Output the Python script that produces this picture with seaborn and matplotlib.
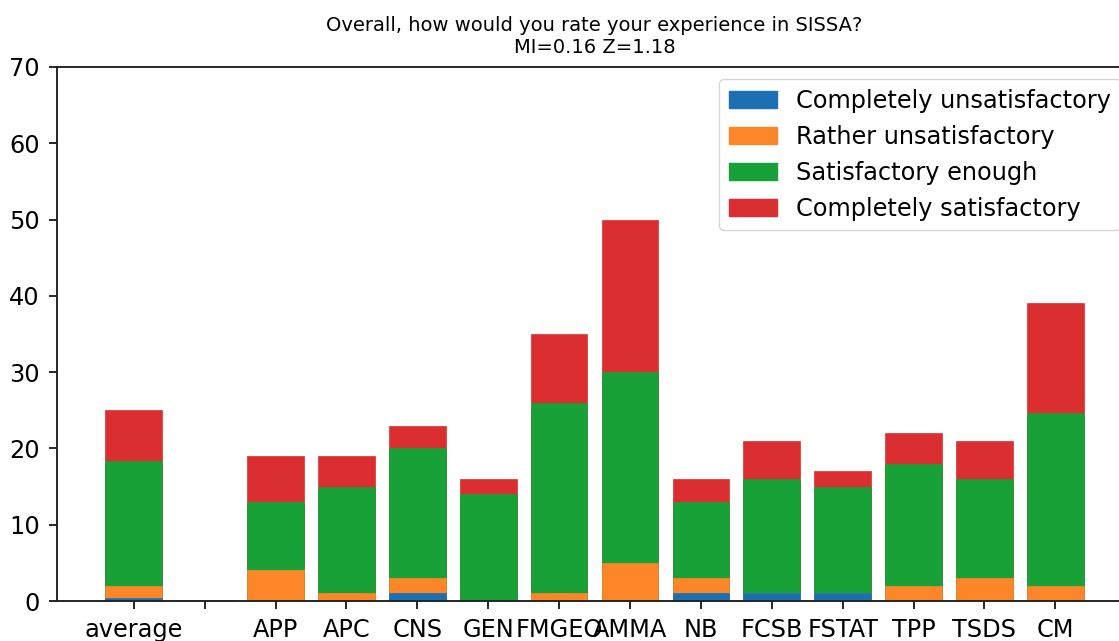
import numpy as np
import pandas as pd
import matplotlib
matplotlib.use("Agg")
import matplotlib.pyplot as plt
import seaborn as sns
from matplotlib.patches import Patch

# survey answers per group
groups = ["average", "", "APP", "APC", "CNS", "GEN", "FMGEO", "AMMA",
          "NB", "FCSB", "FSTAT", "TPP", "TSDS", "CM"]
answers = ["Completely unsatisfactory", "Rather unsatisfactory",
           "Satisfactory enough", "Completely satisfactory"]
completely_unsat = [0.35, 0, 0, 0, 1, 0, 0, 0, 1, 1, 1, 0, 0, 0]
rather_unsat = [1.65, 0, 4, 1, 2, 0, 1, 5, 2, 0, 0, 2, 3, 2]
satisfactory = [16.35, 0, 9, 14, 17, 14, 25, 25, 10, 15, 14, 16, 13, 22.7]
completely_sat = [6.65, 0.15, 6, 4, 3, 2, 9, 20, 3, 5, 2, 4, 5, 14.3]
colors = ["#1b6fb2", "#fd8628", "#17a136", "#da2e30"]

df = pd.DataFrame({"group": groups,
                   answers[0]: completely_unsat,
                   answers[1]: rather_unsat,
                   answers[2]: satisfactory,
                   answers[3]: completely_sat})
# cumulative heights, drawn from the top layer down so they stack visually
cum = df[answers].cumsum(axis=1)

fig = plt.figure(figsize=(11.19, 6.41), dpi=100)
ax = fig.add_axes([0.0505, 0.0624, 0.9617, 0.8331])

for ans, col in reversed(list(zip(answers, colors))):
    sns.barplot(x=df["group"], y=cum[ans], order=groups, color=col,
                errorbar=None, width=0.8, saturation=1,
                edgecolor=col, linewidth=0.5, ax=ax)

ax.set_xlim(-1.09, 14.09)
ax.set_ylim(0, 70)
ax.set_yticks(range(0, 71, 10))
ax.set_xlabel("")
ax.set_ylabel("")
for s in ax.spines.values():
    s.set_linewidth(1.38)
    s.set_color("#222222")
ax.tick_params(labelsize=17.3, length=6, width=1.38, pad=6, color="#222222")

ax.set_title("Overall, how would you rate your experience in SISSA?\nMI=0.16 Z=1.18",
             fontsize=14, pad=10)

handles = [Patch(facecolor=c, edgecolor=c, label=a) for a, c in zip(answers, colors)]
ax.legend(handles=handles, loc="upper right", fontsize=17.3)

fig.savefig("out.png", dpi=100)
